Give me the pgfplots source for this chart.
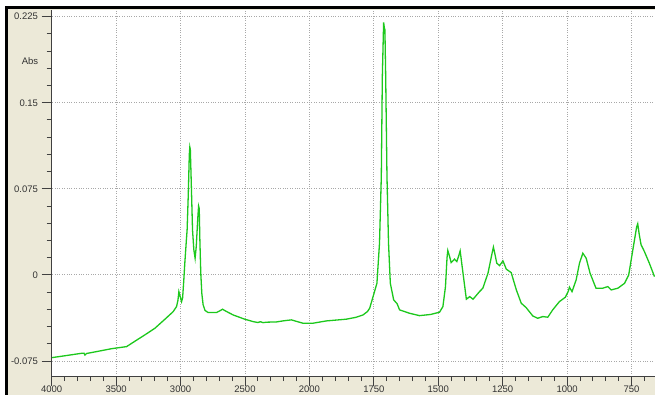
\documentclass[border=0pt]{standalone}
\usepackage{pgfplots}
\pgfplotsset{compat=1.18}
\usepackage{fontspec}
\setmainfont{Liberation Sans}
\definecolor{beige}{HTML}{ECE9D8}
\definecolor{specgreen}{HTML}{1CC81C}
\definecolor{axgray}{HTML}{404040}
\definecolor{gridgray}{HTML}{A8A8A8}
\begin{document}
\begin{tikzpicture}
\fill[white] (0pt,0pt) rectangle (655pt,-395pt);
\fill[beige] (8pt,-9pt) rectangle (655pt,-395pt);
\draw[black, line width=3pt] (6.5pt,-395pt) -- (6.5pt,-7.5pt) -- (655pt,-7.5pt);
\node[font=\fontsize{9.5}{11}\selectfont, text=black!80] at (30pt,-61pt) {Abs};
\begin{axis}[
  at={(51.7pt,-10pt)}, anchor=north west,
  scale only axis, width=603.3pt, height=366pt,
  x coord trafo/.code={\pgfmathparse{#1>2000 ? 2000+(#1-2000)/2 : #1}},
  x coord inv trafo/.code={\pgfmathparse{#1>2000 ? 2000+2*(#1-2000) : #1}},
  x dir=reverse,
  xmin=659, xmax=4000,
  ymin=-0.0881, ymax=0.2308,
  axis background/.style={fill=white},
  axis line style={draw=none},
  xtick pos=bottom, ytick pos=left,
  tick align=outside,
  major tick length=10pt, minor tick length=5pt,
  xtick={4000,3500,3000,2500,2000,1750,1500,1250,1000,750},
  xticklabels={4000,3500,3000,2500,2000,1750,1500,1250,1000,750},
  minor xtick={3900,3800,3700,3600,3400,3300,3200,3100,2900,2800,2700,2600,2400,2300,2200,2100,1950,1900,1850,1800,1700,1650,1600,1550,1450,1400,1350,1300,1200,1150,1100,1050,950,900,850,800,700},
  ytick={-0.075,0,0.075,0.15,0.225},
  yticklabels={-0.075,0,0.075,0.15,0.225},
  minor y tick num=4,
  every tick/.style={draw=axgray, line width=0.9pt},
  grid=major,
  major grid style={gridgray, dotted, line width=0.8pt},
  ticklabel style={font=\fontsize{9.5}{11}\selectfont, text=black!80},
  xticklabel style={anchor=base, yshift=-6pt},
  yticklabel style={inner sep=1pt, xshift=-2.5pt},
  after end axis/.code={\draw[axgray, line width=0.9pt] (rel axis cs:0,1) -- (rel axis cs:0,0) -- (rel axis cs:1,0);},
]
\addplot[specgreen, line width=1.3pt] coordinates {
(4000,-0.0721) (3900,-0.0705) (3767,-0.0683) (3750,-0.0682) (3742,-0.0698) (3730,-0.0685)
(3650,-0.0668) (3535,-0.0643) (3419,-0.0625) (3350,-0.0575) (3280,-0.0525) (3199,-0.0465)
(3120,-0.0385) (3057,-0.0320) (3031,-0.0276) (3020,-0.0220) (3013,-0.0146) (3005,-0.0180)
(2992,-0.0233) (2984,-0.0200) (2975,-0.0050) (2967,0.0102) (2955,0.0300) (2949,0.0392)
(2940,0.0700) (2932,0.1050) (2928,0.1113) (2924,0.1090) (2918,0.0850) (2907,0.0390)
(2897,0.0220) (2887,0.0145) (2878,0.0250) (2866,0.0500) (2860,0.0600) (2855,0.0580)
(2850,0.0300) (2843,0.0015) (2835,-0.0160) (2825,-0.0260) (2810,-0.0310) (2786,-0.0328)
(2721,-0.0328) (2690,-0.0310) (2674,-0.0299) (2650,-0.0315) (2592,-0.0349) (2502,-0.0386)
(2437,-0.0407) (2400,-0.0415) (2380,-0.0408) (2360,-0.0416) (2330,-0.0412) (2256,-0.0410)
(2200,-0.0400) (2140,-0.0392) (2100,-0.0405) (2050,-0.0421) (1986,-0.0421) (1934,-0.0401)
(1857,-0.0386) (1820,-0.0370) (1792,-0.0349) (1775,-0.0320) (1766,-0.0290) (1751,-0.0174)
(1738,-0.0073) (1728,0.0276) (1721,0.0857) (1717,0.1730) (1712,0.2200) (1709,0.2150)
(1707,0.2136) (1704,0.1730) (1699,0.0857) (1693,0.0276) (1686,-0.0073) (1673,-0.0218)
(1660,-0.0250) (1650,-0.0305) (1612,-0.0334) (1573,-0.0355) (1530,-0.0345) (1495,-0.0325)
(1482,-0.0276) (1472,-0.0102) (1466,0.0150) (1463,0.0212) (1456,0.0160) (1450,0.0107)
(1437,0.0137) (1428,0.0116) (1420,0.0170) (1415,0.0209) (1410,0.0120) (1404,0.0015)
(1391,-0.0212) (1378,-0.0189) (1365,-0.0212) (1340,-0.0146) (1327,-0.0116) (1307,0.0015)
(1292,0.0180) (1286,0.0242) (1280,0.0180) (1273,0.0102) (1262,0.0081) (1249,0.0122)
(1236,0.0050) (1217,0.0020) (1197,-0.0131) (1178,-0.0247) (1159,-0.0285) (1133,-0.0358)
(1114,-0.0378) (1094,-0.0363) (1075,-0.0369) (1056,-0.0305) (1030,-0.0233) (1007,-0.0195)
(995,-0.0140) (991,-0.0107) (981,-0.0146) (965,-0.0044) (952,0.0102) (939,0.0189)
(926,0.0145) (911,0.0015) (888,-0.0116) (862,-0.0116) (842,-0.0102) (829,-0.0131)
(803,-0.0116) (777,-0.0073) (761,0.0000) (745,0.0218) (730,0.0420) (726,0.0445)
(720,0.0350) (713,0.0262) (700,0.0203) (681,0.0102) (661,-0.0015)
};
\end{axis}
\pgfresetboundingbox
\useasboundingbox (0pt,0pt) rectangle (655pt,-395pt);
\end{tikzpicture}
\end{document}
